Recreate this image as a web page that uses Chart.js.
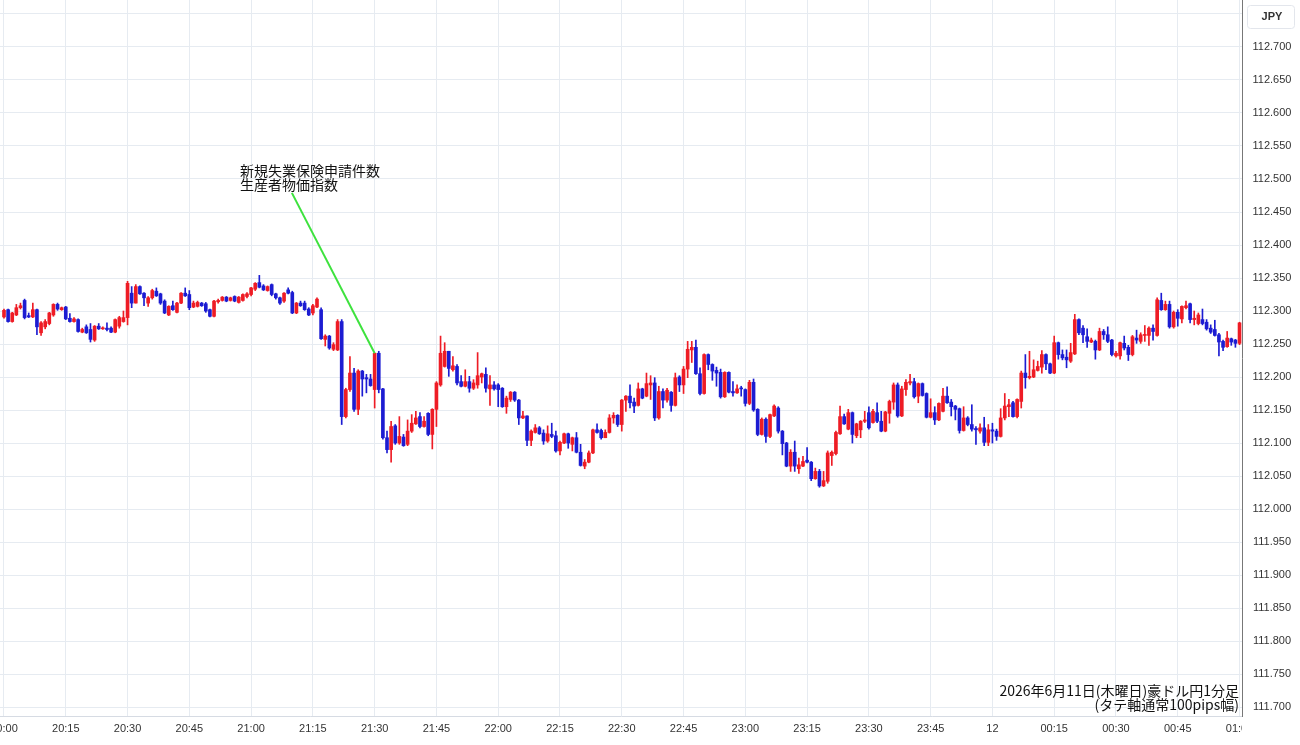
<!DOCTYPE html>
<html>
<head>
<meta charset="utf-8">
<script src="https://cdn.jsdelivr.net/npm/chart.js@4.4.1/dist/chart.umd.min.js"></script>
<style>
  html, body { margin: 0; padding: 0; background: #fff; }
  canvas { display: block; }
</style>
</head>
<body>
<canvas id="chart" width="1300" height="745"></canvas>
<script>
// AUD/JPY 1-minute candles, 20:00 -> 01:00
const tickLabels = ['20:00','20:15','20:30','20:45','21:00','21:15','21:30','21:45','22:00','22:15','22:30','22:45','23:00','23:15','23:30','23:45','12','00:15','00:30','00:45','01:00'];

const openP = [
  112.291,112.302,112.284,112.294,112.305,112.316,112.293,112.291,112.302,112.267,
  112.276,112.281,112.294,112.310,112.302,112.306,112.289,112.284,112.287,112.268,
  112.276,112.272,112.256,112.277,112.273,112.274,112.274,112.268,112.277,112.284,
  112.290,112.327,112.312,112.337,112.327,112.312,112.320,112.330,112.326,112.315,
  112.294,112.308,112.298,112.312,112.327,112.325,112.306,112.307,112.312,112.311,
  112.302,112.292,112.314,112.316,112.321,112.316,112.322,112.313,112.316,112.322,
  112.325,112.333,112.343,112.338,112.331,112.340,112.326,112.320,112.315,112.332,
  112.328,112.297,112.312,112.312,112.303,112.297,112.306,112.302,112.257,112.262,
  112.242,112.241,112.284,112.140,112.181,112.206,112.151,112.209,112.199,112.197,
  112.181,112.236,112.182,112.108,112.090,112.126,112.100,112.109,112.098,112.118,
  112.129,112.140,112.125,112.145,112.113,112.151,112.188,112.216,112.239,112.211,
  112.216,112.193,112.186,112.193,112.183,112.188,112.200,112.204,112.182,112.188,
  112.188,112.183,112.155,112.166,112.177,112.165,112.138,112.141,112.104,112.116,
  112.123,112.115,112.103,112.113,112.111,112.088,112.100,112.114,112.098,112.108,
  112.086,112.065,112.071,112.085,112.120,112.119,112.108,112.116,112.138,112.142,
  112.128,112.165,112.171,112.162,112.157,112.182,112.171,112.188,112.191,112.138,
  112.178,112.165,112.177,112.157,112.200,112.188,112.212,112.241,112.245,112.205,
  112.175,112.234,112.219,112.210,112.207,112.170,112.207,112.178,112.176,112.183,
  112.181,112.160,112.192,112.151,112.113,112.136,112.110,112.141,112.153,112.118,
  112.100,112.065,112.086,112.061,112.065,112.074,112.071,112.046,112.057,112.035,
  112.042,112.081,112.084,112.114,112.140,112.121,112.146,112.111,112.120,112.133,
  112.146,112.131,112.146,112.133,112.118,112.145,112.162,112.188,112.141,112.181,
  112.191,112.193,112.171,112.190,112.175,112.139,112.146,112.135,112.148,112.171,
  112.162,112.156,112.152,112.119,112.138,112.128,112.122,112.118,112.123,112.101,
  112.120,112.118,112.110,112.138,112.155,112.161,112.140,112.163,112.206,112.199,
  112.200,112.210,112.215,112.234,112.220,112.206,112.252,112.234,112.230,112.224,
  112.235,112.287,112.274,112.261,112.253,112.254,112.241,112.269,112.264,112.256,
  112.232,112.232,112.251,112.245,112.234,112.259,112.254,112.263,112.263,112.274,
  112.263,112.316,112.302,112.310,112.276,112.298,112.288,112.305,112.311,112.287,
  112.281,112.287,112.283,112.274,112.272,112.264,112.254,112.246,112.258,112.256,
  112.251
];
const highP = [
  112.303,112.303,112.298,112.310,112.312,112.318,112.297,112.312,112.303,112.284,
  112.287,112.298,112.311,112.312,112.306,112.307,112.296,112.290,112.288,112.274,
  112.279,112.281,112.278,112.281,112.276,112.282,112.276,112.288,112.292,112.300,
  112.345,112.337,112.340,112.338,112.328,112.322,112.333,112.335,112.327,112.317,
  112.308,112.315,112.313,112.328,112.335,112.331,112.315,112.315,112.313,112.313,
  112.303,112.316,112.318,112.322,112.322,112.321,112.323,112.322,112.326,112.328,
  112.336,112.343,112.354,112.340,112.338,112.341,112.327,112.321,112.328,112.335,
  112.330,112.313,112.315,112.315,112.305,112.310,112.320,112.305,112.264,112.263,
  112.252,112.287,112.287,112.183,112.231,112.213,112.211,112.210,112.204,112.204,
  112.236,112.239,112.183,112.118,112.133,112.128,112.140,112.113,112.135,112.143,
  112.148,112.146,112.140,112.146,112.152,112.193,112.262,112.252,112.239,112.231,
  112.219,112.202,112.211,112.201,112.196,112.237,112.206,112.214,112.202,112.193,
  112.190,112.184,112.171,112.178,112.178,112.166,112.148,112.141,112.120,112.128,
  112.125,112.120,112.126,112.130,112.118,112.103,112.115,112.115,112.109,112.116,
  112.098,112.075,112.088,112.121,112.129,112.121,112.120,112.143,112.146,112.143,
  112.166,112.172,112.188,112.168,112.191,112.183,112.206,112.202,112.199,112.186,
  112.182,112.183,112.178,112.206,112.202,112.216,112.254,112.254,112.256,112.214,
  112.235,112.235,112.220,112.215,112.212,112.208,112.208,112.193,112.188,112.186,
  112.182,112.195,112.197,112.152,112.138,112.138,112.144,112.158,112.155,112.119,
  112.101,112.090,112.103,112.077,112.080,112.093,112.072,112.062,112.060,112.057,
  112.088,112.088,112.118,112.156,112.144,112.151,112.147,112.130,112.134,112.148,
  112.155,112.151,112.161,112.148,112.148,112.165,112.191,112.191,112.186,112.196,
  112.204,112.198,112.191,112.191,112.176,112.167,112.155,112.161,112.183,112.185,
  112.166,112.157,112.153,112.155,112.140,112.158,112.125,112.129,112.139,112.128,
  112.130,112.121,112.152,112.175,112.166,112.163,112.167,112.209,112.234,112.239,
  112.226,112.224,112.240,112.235,112.221,112.262,112.253,112.241,112.241,112.251,
  112.295,112.288,112.278,112.273,112.259,112.256,112.274,112.272,112.276,112.257,
  112.239,112.253,112.262,112.248,112.263,112.271,112.267,112.278,112.276,112.279,
  112.320,112.327,112.315,112.315,112.300,112.302,112.308,112.315,112.312,112.300,
  112.297,112.303,112.287,112.279,112.286,112.266,112.256,112.269,112.259,112.257,
  112.283
];
const lowP = [
  112.289,112.283,112.283,112.293,112.303,112.288,112.290,112.290,112.264,112.263,
  112.273,112.279,112.292,112.301,112.301,112.287,112.283,112.283,112.268,112.267,
  112.266,112.253,112.254,112.272,112.272,112.270,112.267,112.267,112.274,112.283,
  112.279,112.305,112.312,112.325,112.308,112.307,112.318,112.322,112.310,112.296,
  112.293,112.301,112.297,112.311,112.322,112.302,112.305,112.306,112.307,112.298,
  112.291,112.291,112.312,112.315,112.314,112.315,112.314,112.312,112.315,112.320,
  112.323,112.331,112.335,112.331,112.330,112.323,112.318,112.310,112.313,112.326,
  112.296,112.296,112.307,112.301,112.293,112.294,112.305,112.257,112.247,112.242,
  112.240,112.240,112.128,112.138,112.178,112.148,112.143,112.171,112.176,112.186,
  112.153,112.176,112.106,112.085,112.071,112.098,112.098,112.095,112.096,112.116,
  112.128,112.123,112.124,112.111,112.091,112.125,112.186,112.215,112.201,112.209,
  112.188,112.185,112.185,112.177,112.181,112.183,112.191,112.177,112.157,112.180,
  112.155,112.154,112.145,112.163,112.163,112.128,112.137,112.096,112.096,112.115,
  112.113,112.098,112.101,112.108,112.086,112.082,112.099,112.092,112.088,112.085,
  112.065,112.061,112.070,112.084,112.115,112.106,112.108,112.115,112.130,112.125,
  112.118,112.148,112.153,112.146,112.156,112.167,112.170,112.166,112.134,112.136,
  112.153,112.162,112.148,112.156,112.178,112.175,112.199,112.222,112.204,112.173,
  112.174,112.211,112.195,112.186,112.168,112.169,112.176,112.171,112.175,112.171,
  112.156,112.158,112.148,112.111,112.112,112.101,112.108,112.140,112.115,112.082,
  112.064,112.057,112.057,112.054,112.064,112.070,112.043,112.045,112.033,112.034,
  112.039,112.066,112.082,112.113,112.128,112.120,112.100,112.108,112.108,112.131,
  112.121,112.130,112.131,112.117,112.117,112.130,112.151,112.139,112.140,112.172,
  112.188,112.168,112.161,112.171,112.138,112.138,112.128,112.134,112.147,112.160,
  112.141,112.135,112.115,112.118,112.126,112.118,112.098,112.115,112.096,112.096,
  112.100,112.104,112.109,112.135,112.140,112.139,112.138,112.153,112.183,112.197,
  112.199,112.209,112.206,112.211,112.205,112.205,112.227,112.226,112.214,112.222,
  112.234,112.264,112.252,112.245,112.252,112.227,112.240,112.257,112.252,112.232,
  112.230,112.227,112.241,112.225,112.232,112.251,112.251,112.254,112.248,112.256,
  112.262,112.301,112.301,112.274,112.274,112.277,112.282,112.303,112.282,112.279,
  112.279,112.279,112.271,112.266,112.262,112.232,112.240,112.245,112.248,112.245,
  112.249
];
const closeP = [
  112.301,112.284,112.297,112.305,112.308,112.290,112.291,112.302,112.276,112.282,
  112.284,112.297,112.310,112.303,112.305,112.288,112.284,112.288,112.269,112.272,
  112.267,112.257,112.277,112.273,112.274,112.272,112.268,112.287,112.290,112.290,
  112.342,112.312,112.337,112.326,112.320,112.320,112.331,112.323,112.312,112.297,
  112.307,112.302,112.312,112.327,112.323,112.305,112.312,112.313,112.308,112.300,
  112.292,112.315,112.316,112.321,112.315,112.320,112.315,112.321,112.325,112.326,
  112.335,112.342,112.336,112.332,112.337,112.325,112.320,112.312,112.327,112.327,
  112.297,112.312,112.308,112.302,112.294,112.308,112.318,112.258,112.262,112.244,
  112.249,112.284,112.140,112.181,112.206,112.151,112.209,112.197,112.197,112.187,
  112.236,112.181,112.108,112.090,112.125,112.100,112.110,112.096,112.118,112.130,
  112.138,112.125,112.133,112.113,112.151,112.191,112.236,112.239,112.213,112.217,
  112.191,112.186,112.193,112.183,112.191,112.202,112.205,112.183,112.188,112.182,
  112.181,112.155,112.168,112.177,112.165,112.138,112.141,112.104,112.118,112.123,
  112.114,112.103,112.114,112.110,112.088,112.101,112.114,112.100,112.108,112.086,
  112.066,112.071,112.085,112.120,112.116,112.108,112.116,112.138,112.142,112.128,
  112.165,112.171,112.161,112.156,112.182,112.168,112.190,112.191,112.138,112.178,
  112.165,112.180,112.157,112.199,112.188,112.212,112.242,112.245,112.205,112.175,
  112.234,112.219,112.209,112.206,112.170,112.207,112.177,112.176,112.182,112.182,
  112.160,112.192,112.150,112.113,112.136,112.110,112.143,112.156,112.118,112.099,
  112.065,112.086,112.065,112.067,112.072,112.071,112.046,112.057,112.035,112.043,
  112.085,112.086,112.116,112.140,112.129,112.146,112.113,112.129,112.133,112.135,
  112.123,112.148,112.133,112.118,112.147,112.163,112.188,112.141,112.182,112.192,
  112.193,112.170,112.190,112.172,112.139,112.146,112.135,112.160,112.171,112.161,
  112.155,112.151,112.119,112.138,112.128,112.121,112.120,112.123,112.101,112.120,
  112.118,112.110,112.138,112.156,112.158,112.140,112.166,112.206,112.199,112.201,
  112.211,112.216,112.234,112.220,112.206,112.252,112.234,112.229,112.226,112.237,
  112.287,112.267,112.264,112.254,112.256,112.241,112.269,112.264,112.254,112.234,
  112.236,112.252,112.244,112.234,112.261,112.256,112.264,112.264,112.274,112.269,
  112.317,112.302,112.310,112.276,112.298,112.289,112.307,112.308,112.287,112.289,
  112.294,112.281,112.273,112.268,112.263,112.253,112.245,112.259,112.253,112.251,
  112.282
];

// event note: candle index it points at, and where its text sits (minute, price)
const noteLines = ['新規失業保険申請件数', '生産者物価指数'];
const noteIndex = 90;
const noteTextAt = { x: 57.3, y: 112.512 };
const noteLineFrom = { x: 69.9, y: 112.479 };
const captionLines = ['2026年6月11日(木曜日)豪ドル円1分足', '(タテ軸通常100pips幅)'];

const UP = '#ee1c25';
const DOWN = '#1c1cd2';
const GRID = '#e6ebf1';
const TEXT = '#333';

const candleColor = openP.map((o, i) => closeP[i] >= o ? UP : DOWN);
const wickData = openP.map((o, i) => ({ x: i, y: [lowP[i], highP[i]] }));
const bodyData = openP.map((o, i) => ({ x: i, y: [o, closeP[i]] }));

const overlay = {
  id: 'overlay',
  afterDraw(chart) {
    const ctx = chart.ctx;
    const xs = chart.scales.x, ys = chart.scales.y;
    const area = chart.chartArea;
    ctx.save();

    // y labels
    ctx.fillStyle = TEXT;
    ctx.font = '11px "Liberation Sans", Arial, sans-serif';
    ctx.textAlign = 'center';
    ctx.textBaseline = 'middle';
    const ymid = (ys.left + ys.right) / 2;
    ys.ticks.forEach(t => {
      ctx.fillText(t.value.toFixed(3), ymid + 1, ys.getPixelForValue(t.value));
    });

    // x labels, clipped at the plot edges
    ctx.save();
    ctx.beginPath();
    ctx.rect(0, area.bottom, area.right, chart.height - area.bottom);
    ctx.clip();
    xs.ticks.forEach(t => {
      const lbl = tickLabels[Math.round(t.value / 15)];
      if (lbl) ctx.fillText(lbl, xs.getPixelForValue(t.value), area.bottom + 13);
    });
    ctx.restore();

    // currency box
    ctx.fillStyle = '#fff';
    ctx.strokeStyle = '#e3e6ec';
    ctx.lineWidth = 1;
    ctx.beginPath();
    ctx.roundRect(ys.left + 5.5, 5.5, 47, 23, 3);
    ctx.fill();
    ctx.stroke();
    ctx.fillStyle = TEXT;
    ctx.font = 'bold 11px "Liberation Sans", Arial, sans-serif';
    ctx.fillText('JPY', ymid + 1, 17);

    // event note
    ctx.strokeStyle = '#3ee23e';
    ctx.lineWidth = 2;
    ctx.beginPath();
    ctx.moveTo(xs.getPixelForValue(noteLineFrom.x), ys.getPixelForValue(noteLineFrom.y));
    ctx.lineTo(xs.getPixelForValue(noteIndex), ys.getPixelForValue(highP[noteIndex]));
    ctx.stroke();
    ctx.fillStyle = '#111';
    ctx.font = '14px "Noto Sans CJK JP", sans-serif';
    ctx.textAlign = 'left';
    const tx = xs.getPixelForValue(noteTextAt.x), ty = ys.getPixelForValue(noteTextAt.y);
    noteLines.forEach((s, k) => ctx.fillText(s, tx, ty + k * 14));

    // caption
    ctx.textAlign = 'right';
    ctx.font = '14px "Noto Sans CJK JP", sans-serif';
    captionLines.forEach((s, k) => ctx.fillText(s, area.right - 3, area.bottom - 25 + k * 14));
    ctx.restore();
  }
};

new Chart(document.getElementById('chart'), {
  type: 'bar',
  data: {
    datasets: [
      { data: wickData, backgroundColor: candleColor, barThickness: 1, grouped: false, order: 2 },
      { data: bodyData, backgroundColor: candleColor, barThickness: 3, minBarLength: 1, grouped: false, order: 1 }
    ]
  },
  options: {
    responsive: false,
    devicePixelRatio: 1,
    animation: false,
    layout: { padding: 0 },
    plugins: { legend: { display: false }, tooltip: { enabled: false } },
    scales: {
      x: {
        type: 'linear',
        offset: false,
        min: -0.97,
        max: 300.6,
        ticks: { stepSize: 15, display: false, includeBounds: false },
        grid: { color: GRID, drawTicks: false, offset: false },
        border: { display: true, color: '#d6dbe3' },
        afterFit: s => { s.height = 29; }
      },
      y: {
        position: 'right',
        min: 111.6864,
        max: 112.7712,
        ticks: { stepSize: 0.05, display: false, includeBounds: false },
        grid: { color: GRID, drawTicks: false },
        border: { display: true, color: '#777' },
        afterFit: s => { s.height = s.height; s.width = 58; }
      }
    }
  },
  plugins: [overlay]
});
</script>
</body>
</html>
